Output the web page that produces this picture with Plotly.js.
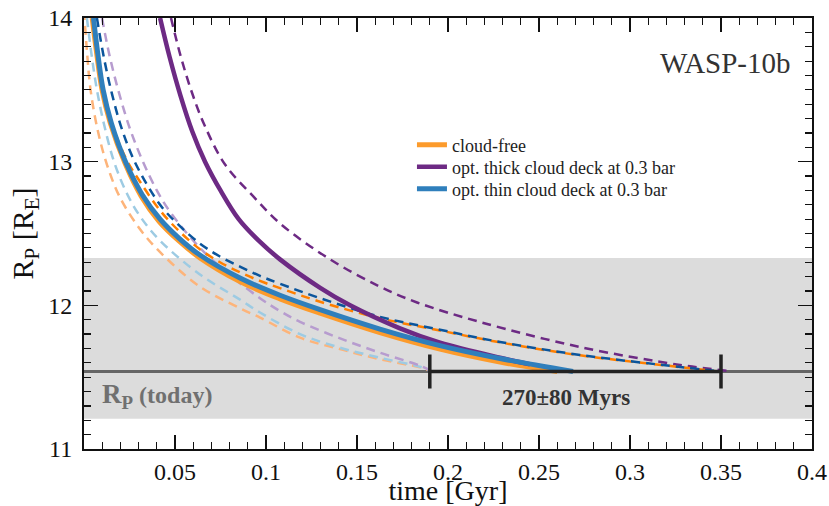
<!DOCTYPE html>
<html>
<head>
<meta charset="utf-8">
<script src="https://cdn.plot.ly/plotly-3.0.1.min.js"></script>
<style>html,body{margin:0;padding:0;background:#fff;}#chart{width:829px;height:506px;}</style>
</head>
<body>
<div id="chart"></div>
<script>
// ---- data ----
// cloud-free, nominal (solid)
const tCloudFree = [0.0045, 0.0069, 0.0099, 0.0144, 0.0225, 0.0314, 0.0412, 0.0520, 0.0637, 0.0857, 0.1077, 0.1297, 0.1626, 0.1956, 0.2286, 0.2600];
const rCloudFree = [14.00, 13.76, 13.50, 13.27, 12.99, 12.76, 12.585, 12.45, 12.33, 12.165, 12.045, 11.945, 11.81, 11.695, 11.605, 11.54];
// cloud-free, upper (dark dashed)
const tCloudFreeHi = [0.0052, 0.0105, 0.0155, 0.0231, 0.0308, 0.0418, 0.0520, 0.0637, 0.0747, 0.0857, 0.0967, 0.1077, 0.1297, 0.1626, 0.1956, 0.2286, 0.2725, 0.3275, 0.3480];
const rCloudFreeHi = [14.00, 13.50, 13.26, 13.02, 12.86, 12.66, 12.52, 12.39, 12.30, 12.23, 12.17, 12.12, 12.025, 11.91, 11.825, 11.742, 11.652, 11.57, 11.54];
// cloud-free, lower (light dashed)
const tCloudFreeLo = [0.0000, 0.0018, 0.0036, 0.0075, 0.0126, 0.0198, 0.0308, 0.0418, 0.0637, 0.0857, 0.0967, 0.1187, 0.1407, 0.1626, 0.1846, 0.1885];
const rCloudFreeLo = [14.05, 13.74, 13.50, 13.22, 12.98, 12.75, 12.53, 12.37, 12.13, 11.98, 11.915, 11.775, 11.695, 11.625, 11.568, 11.55];

// optically thick cloud deck (solid)
const tThick = [0.0418, 0.0470, 0.0530, 0.0595, 0.0665, 0.0750, 0.0850, 0.0960, 0.1077, 0.1300, 0.1462, 0.1736, 0.1956, 0.2286, 0.2450];
const rThick = [14.00, 13.73, 13.46, 13.21, 13.00, 12.80, 12.60, 12.45, 12.32, 12.12, 12.00, 11.84, 11.74, 11.635, 11.59];
// optically thick, upper (dashed)
const tThickHi = [0.0478, 0.0530, 0.0588, 0.0660, 0.0775, 0.0929, 0.1077, 0.1352, 0.1626, 0.1830, 0.2176, 0.2725, 0.3275, 0.3549];
const rThickHi = [14.00, 13.74, 13.50, 13.26, 12.98, 12.76, 12.57, 12.32, 12.13, 12.02, 11.884, 11.71, 11.585, 11.543];
// optically thick, lower (light dashed)
const tThickLo = [0.0099, 0.0140, 0.0192, 0.0255, 0.0324, 0.0400, 0.0473, 0.0637, 0.0802, 0.0967, 0.1077, 0.1187, 0.1407, 0.1626, 0.1846, 0.1905];
const rThickLo = [14.00, 13.74, 13.48, 13.22, 13.00, 12.80, 12.65, 12.40, 12.21, 12.05, 11.96, 11.885, 11.77, 11.67, 11.58, 11.545];

// optically thin cloud deck (solid)
const tThin = [0.0052, 0.0075, 0.0105, 0.0150, 0.0231, 0.0320, 0.0418, 0.0520, 0.0637, 0.0857, 0.1077, 0.1297, 0.1626, 0.1956, 0.2286, 0.2687];
const rThin = [14.00, 13.76, 13.50, 13.27, 12.99, 12.77, 12.60, 12.47, 12.35, 12.19, 12.07, 11.97, 11.835, 11.72, 11.63, 11.54];
// optically thin, upper (dark dashed)
const tThinHi = [0.0071, 0.0110, 0.0154, 0.0210, 0.0286, 0.0418, 0.0520, 0.0637, 0.0747, 0.0857, 0.0967, 0.1077, 0.1297, 0.1626, 0.1956, 0.2286, 0.2725, 0.3275, 0.3500];
const rThinHi = [14.00, 13.72, 13.47, 13.22, 12.98, 12.70, 12.56, 12.43, 12.34, 12.27, 12.205, 12.15, 12.05, 11.92, 11.83, 11.745, 11.655, 11.571, 11.54];
// optically thin, lower (light dashed)
const tThinLo = [0.0016, 0.0042, 0.0071, 0.0110, 0.0165, 0.0235, 0.0308, 0.0418, 0.0637, 0.0857, 0.0967, 0.1187, 0.1407, 0.1626, 0.1846, 0.1900];
const rThinLo = [14.00, 13.74, 13.50, 13.26, 13.00, 12.78, 12.62, 12.45, 12.215, 12.04, 11.95, 11.80, 11.705, 11.635, 11.572, 11.55];

// present-day radius and its uncertainty band
const rToday = 11.54;
const rBandLow = 11.21;
const rBandHigh = 12.33;
// estimated age (Gyr)
const age = 0.27;
const ageErr = 0.08;

const seriesNames = ['cloud-free', 'opt. thick cloud deck at 0.3 bar', 'opt. thin cloud deck at 0.3 bar'];
const xTicks = [0.05, 0.1, 0.15, 0.2, 0.25, 0.3, 0.35, 0.4];
const xTickText = ['0.05', '0.1', '0.15', '0.2', '0.25', '0.3', '0.35', '0.4'];
const yTicks = [11, 12, 13, 14];
const yTickText = ['11', '12', '13', '14'];

// ---- chart ----
const FONT = '"Liberation Serif", "Times New Roman", Times, serif';
const DASH = '9px,6px';
function dashed(x, y, color, width) {
  return {x: x, y: y, type: 'scatter', mode: 'lines', showlegend: false, hoverinfo: 'skip',
          line: {color: color, width: width, dash: DASH, shape: 'spline', smoothing: 1}};
}
function solid(x, y, color, width, name, legendId) {
  return {x: x, y: y, type: 'scatter', mode: 'lines', name: name, showlegend: true, legend: legendId,
          line: {color: color, width: width, shape: 'spline', smoothing: 1}};
}

const traces = [
  dashed(tCloudFreeLo, rCloudFreeLo, '#fdb47a', 2.5),
  dashed(tThinLo, rThinLo, '#9dcbe3', 2.5),
  dashed(tThickLo, rThickLo, '#b79ccf', 2.5),
  dashed(tThickHi, rThickHi, '#6d2a84', 2.5),
  dashed(tCloudFreeHi, rCloudFreeHi, '#ff7f00', 2.5),
  dashed(tThinHi, rThinHi, '#0b559c', 2.5),
  solid(tCloudFree, rCloudFree, '#fc9b2c', 5, seriesNames[0], 'legend'),
  solid(tThick, rThick, '#6d2a84', 4.5, seriesNames[1], 'legend2'),
  solid(tThin, rThin, '#2f7fbc', 5, seriesNames[2], 'legend3'),
  {x: [age], y: [rToday], type: 'scatter', mode: 'markers', showlegend: false, hoverinfo: 'skip',
   marker: {size: 1, opacity: 0},
   error_x: {type: 'constant', value: ageErr, thickness: 3.5, width: 17, color: '#222'}}
];

function legendAt(yPaper) {
  return {x: 0.4505, xanchor: 'left', y: yPaper, yanchor: 'middle', bgcolor: 'rgba(0,0,0,0)',
          font: {family: FONT, size: 18, color: '#222'}};
}

const layout = {
  width: 829, height: 506,
  margin: {l: 84, r: 17, t: 18, b: 57},
  paper_bgcolor: '#fff', plot_bgcolor: '#fff',
  font: {family: FONT, color: '#111'},
  showlegend: true,
  legend: legendAt(0.7053),
  legend2: legendAt(0.6543),
  legend3: legendAt(0.6032),
  xaxis: {range: [0, 0.4], tickmode: 'array', tickvals: xTicks, ticktext: xTickText,
          ticks: 'inside', ticklen: 14, tickwidth: 1.5, tickcolor: '#111',
          showline: true, linewidth: 2, linecolor: '#111', mirror: 'ticks',
          showgrid: false, zeroline: false, ticklabelstandoff: 0,
          tickfont: {family: FONT, size: 24, color: '#111'},
          minor: {tickmode: 'linear', tick0: 0, dtick: 0.01, ticks: 'inside', ticklen: 7, tickwidth: 1.2, tickcolor: '#111', showgrid: false},
          title: {text: 'time [Gyr]', font: {family: FONT, size: 28, color: '#111'}, standoff: 1}},
  yaxis: {range: [11, 14], tickmode: 'array', tickvals: yTicks, ticktext: yTickText,
          ticks: 'inside', ticklen: 14, tickwidth: 1.5, tickcolor: '#111',
          showline: true, linewidth: 2, linecolor: '#111', mirror: 'ticks',
          showgrid: false, zeroline: false, ticklabelstandoff: 5,
          tickfont: {family: FONT, size: 24, color: '#111'},
          minor: {tickmode: 'linear', tick0: 11, dtick: 0.1, ticks: 'inside', ticklen: 7, tickwidth: 1.2, tickcolor: '#111', showgrid: false},
          title: {text: 'R<sub>P</sub> [R<sub>E</sub>]', font: {family: FONT, size: 30, color: '#111'}, standoff: 6}},
  shapes: [
    {type: 'rect', xref: 'x', yref: 'y', x0: 0, x1: 0.4, y0: rBandLow, y1: rBandHigh,
     fillcolor: '#dcdcdc', line: {width: 0}, layer: 'below'},
    {type: 'line', xref: 'x', yref: 'y', x0: 0, x1: 0.4, y0: rToday, y1: rToday,
     line: {color: '#666', width: 3}, layer: 'below'}
  ],
  annotations: [
    {xref: 'paper', yref: 'paper', x: 0.974, y: 0.896, xanchor: 'right', yanchor: 'middle', showarrow: false,
     text: 'WASP-10b', font: {family: FONT, size: 29, color: '#333'}},
    {xref: 'x', yref: 'y', x: 0.265, y: 11.36, xanchor: 'center', yanchor: 'middle', showarrow: false,
     text: '<b>' + Math.round(age * 1000) + '±' + Math.round(ageErr * 1000) + ' Myrs</b>', font: {family: FONT, size: 23, color: '#333'}},
    {xref: 'x', yref: 'y', x: 0.009, y: 11.37, xanchor: 'left', yanchor: 'middle', showarrow: false,
     text: '<b><span style="font-size:27px">R<sub>P</sub></span> (today)</b>', font: {family: FONT, size: 24, color: '#707070'}}
  ]
};

Plotly.newPlot('chart', traces, layout, {displayModeBar: false, staticPlot: true});
</script>
</body>
</html>
